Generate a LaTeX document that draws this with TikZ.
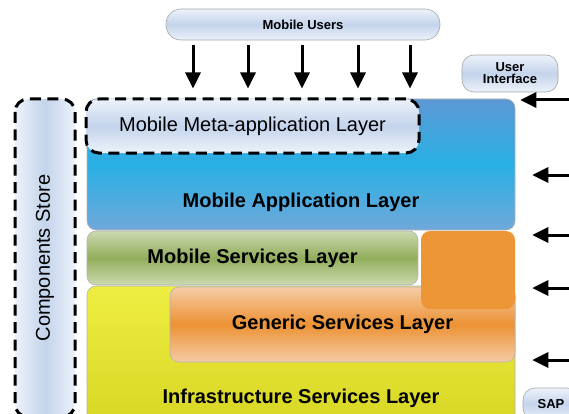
\documentclass[tikz,border=0pt]{standalone}
\usepackage{fontspec}
\setmainfont{Liberation Sans}
\usetikzlibrary{arrows.meta}

\definecolor{paleblue}{RGB}{196,212,236}
\definecolor{palewhite}{RGB}{236,242,250}
\definecolor{apptop}{RGB}{92,152,212}
\definecolor{appmid}{RGB}{40,176,228}
\definecolor{appbot}{RGB}{112,168,218}
\definecolor{svctop}{RGB}{204,218,176}
\definecolor{svcmid}{RGB}{146,174,92}
\definecolor{gentop}{RGB}{246,204,166}
\definecolor{genmid}{RGB}{236,146,52}
\definecolor{sideorange}{RGB}{236,150,54}
\definecolor{infratop}{RGB}{238,238,66}
\definecolor{infrabot}{RGB}{216,214,36}

\begin{document}
\begin{tikzpicture}[x=1pt, y=1pt,
    layer/.style={rounded corners=9pt, draw=black!30, line width=.6pt},
    bigtext/.style={font=\fontsize{20}{24}\selectfont\bfseries},
    smalltext/.style={font=\fontsize{13}{14}\selectfont\bfseries, align=center},
    palebox/.style={rounded corners=12pt, draw=black!35, line width=.6pt,
        top color=palewhite, bottom color=palewhite, middle color=paleblue},
    dashbox/.style={draw=black, line width=3pt, dash pattern=on 11pt off 6.5pt,
        rounded corners=13pt},
    inarrow/.style={-{Triangle[length=16pt,width=15pt]}, line width=3pt}]
  \useasboundingbox (0,0) rectangle (569,-414);

  % layers
  \node[layer, minimum width=428, minimum height=131,
      top color=apptop, bottom color=appbot, middle color=appmid] (app) at (301,-164.5) {};
  \node[layer, minimum width=331, minimum height=54,
      top color=svctop, bottom color=svctop, middle color=svcmid,
      bigtext] (svc) at (252.5,-258) {Mobile Services Layer};
  \node[layer, minimum width=428, minimum height=140,
      top color=infratop, bottom color=infrabot] (infra) at (301,-356) {};
  \node[layer, minimum width=345, minimum height=75,
      top color=gentop, bottom color=gentop, middle color=genmid,
      bigtext] (generic) at (342.5,-324.5) {Generic Services Layer};
  \node[layer, minimum width=94, minimum height=78, draw=none,
      fill=sideorange] (side) at (468,-270) {};
  \node[bigtext] (apptext) at (301,-202) {Mobile Application Layer};
  \node[bigtext] (infratext) at (301,-398) {Infrastructure Services Layer};

  % dashed boxes
  \node[dashbox, minimum width=333, minimum height=54,
      top color=palewhite, bottom color=palewhite, middle color=paleblue,
      font=\fontsize{20}{24}\selectfont] (meta) at (252.5,-126) {Mobile Meta-application Layer};
  \node[dashbox, rotate=90, minimum width=318, minimum height=60,
      left color=palewhite, right color=palewhite, middle color=paleblue,
      font=\fontsize{20}{24}\selectfont] (store) at (45,-258) {Components Store};

  % users and interfaces
  \node[palebox, rounded corners=15pt, minimum width=274, minimum height=31,
      smalltext] (users) at (303,-24.5) {Mobile Users};
  \node[palebox, minimum width=96, minimum height=37, inner sep=1pt,
      smalltext] (ui) at (510,-73.5) {User\\[-2pt]Interface};
  \node[palebox, minimum width=56, minimum height=32,
      smalltext] (sap) at (551,-404) {SAP};

  \foreach \dx in {-110,-55,-1,55,107}
    \draw[inarrow, shorten <=5pt, shorten >=9pt]
      ([xshift=\dx pt]users.south) -- ([xshift=\dx pt]users.south |- meta.north);

  \coordinate (in1) at (575,-100);
  \coordinate (in2) at (575,-175);
  \coordinate (in3) at (575,-235);
  \coordinate (in4) at (575,-288);
  \coordinate (in5) at (575,-360);
  \draw[inarrow, shorten >=5pt] (in1) -- (in1 -| app.east);
  \foreach \i in {2,...,5}
    \draw[inarrow, shorten >=17pt] (in\i) -- (in\i -| app.east);
\end{tikzpicture}
\end{document}
